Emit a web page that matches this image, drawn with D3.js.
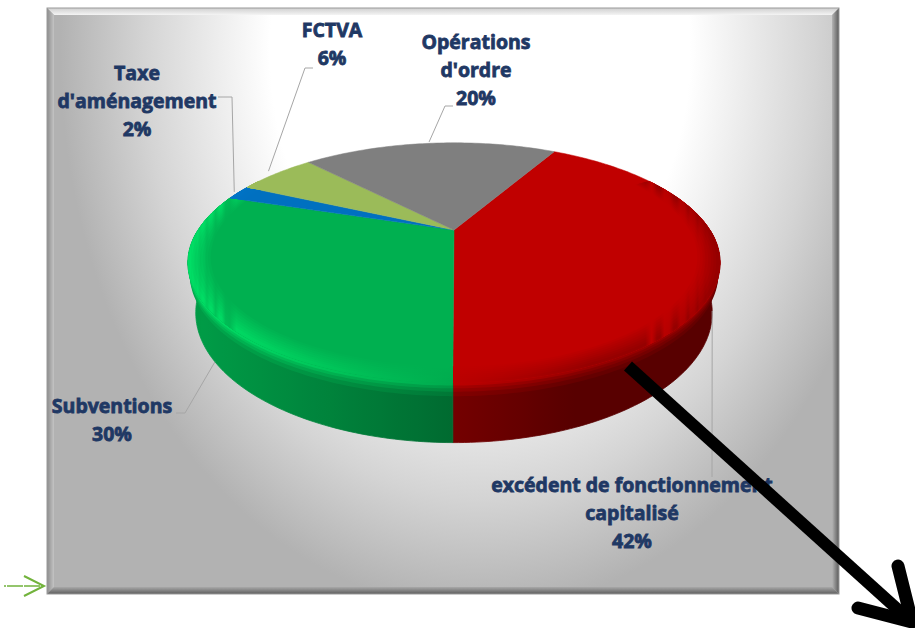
<!DOCTYPE html>
<html>
<head>
<meta charset="utf-8">
<script src="https://cdn.jsdelivr.net/npm/d3@7"></script>
<style>
body { margin: 0; background: #ffffff; }
svg { display: block; }
</style>
</head>
<body>
<div id="viz"></div>
<script>
// data
var categories = ["excédent de fonctionnement capitalisé", "Subventions", "Taxe d'aménagement", "FCTVA", "Opérations d'ordre"];
var labelLines = [["excédent de fonctionnement", "capitalisé"], ["Subventions"], ["Taxe", "d'aménagement"], ["FCTVA"], ["Opérations", "d'ordre"]];
var values = [42, 30, 2, 6, 20];
var colors = ["#c00000", "#00b050", "#0070c0", "#9bbb59", "#7f7f7f"];

var width = 915, height = 628;

// 3d pie geometry
var cx = 454, cy = 230, radius = 256, thick = 55, dist = 845;
var tilt = Math.asin(111 / 256);
var firstAngle = 29 * Math.PI / 180;
var step = Math.PI / 180;

// label layout (text centre, first baseline, leader elbow points)
var labelLayout = [
	{x: 632, y: 492, wall: true, rf: 1.0, elbow: [[712, 477]]},
	{x: 112, y: 413, wall: true, rf: 1.0, elbow: [[185, 413], [176, 413]]},
	{x: 137, y: 80, wall: false, rf: 1.02, elbow: [[232, 97], [218, 97]]},
	{x: 332, y: 37, wall: false, rf: 1.05, elbow: [[305, 68], [313, 68]]},
	{x: 476, y: 49, wall: false, rf: 1.02, elbow: [[445, 106], [453, 106]]}
];
var lineGap = 28;

var proj = function(a, yw, rf) {
	var R = radius * (rf || 1);
	var X = R * Math.sin(a), Z = R * Math.cos(a);
	var dz = dist + Z * Math.cos(tilt) - yw * Math.sin(tilt);
	var s = dist / dz;
	return [cx + X * s, cy - (yw * Math.cos(tilt) + Z * Math.sin(tilt)) * s];
};

var shade = function(c, f) {
	var h = d3.rgb(c);
	return d3.rgb(Math.min(255, h.r * f), Math.min(255, h.g * f), Math.min(255, h.b * f)).formatHex();
};

var wallF = function(a) {
	return 0.46 + 0.48 * Math.max(0, -Math.sin(a) * 0.85 - Math.cos(a) * 0.3);
};
var frontW = function(a) {
	return Math.max(0, Math.min(1, (-Math.cos(a) + 0.5) / 0.5));
};
var bevF = function(a) {
	var f = 0.78 + 0.55 * Math.max(0, -Math.sin(a) * 0.8 - Math.cos(a) * 0.35);
	return 1 + (f - 1) * frontW(a);
};

var line = d3.line();

var svg = d3.select("#viz").append("svg")
	.attr("width", width)
	.attr("height", height);

var defs = svg.append("defs");

var bg = defs.append("radialGradient")
	.attr("id", "bg")
	.attr("gradientUnits", "userSpaceOnUse")
	.attr("cx", 0).attr("cy", 0).attr("r", 1)
	.attr("gradientTransform", "translate(480,50) scale(420,560)");
[[0, "#ffffff"], [0.5, "#ffffff"], [0.8, "#d4d4d4"], [1, "#b2b2b2"]].forEach(function(s) {
	bg.append("stop").attr("offset", s[0]).attr("stop-color", s[1]);
});

var addLinear = function(id, x1, y1, x2, y2, c1, c2) {
	var g = defs.append("linearGradient").attr("id", id)
		.attr("x1", x1).attr("y1", y1).attr("x2", x2).attr("y2", y2);
	g.append("stop").attr("offset", 0).attr("stop-color", c1);
	g.append("stop").attr("offset", 1).attr("stop-color", c2);
};
addLinear("bevTop", 0, 0, 0, 1, "#cfcfcf", "#f4f4f4");
addLinear("bevLeft", 0, 0, 1, 0, "#8c8c8c", "#c4c4c4");
addLinear("bevRight", 1, 0, 0, 0, "#5a5a5a", "#b4b4b4");
addLinear("bevBottom", 0, 1, 0, 0, "#5e5e5e", "#a8a8a8");

// panel
var px0 = 47, py0 = 8, px1 = 839, py1 = 594, bw = 7;
svg.append("rect")
	.attr("x", px0).attr("y", py0)
	.attr("width", px1 - px0).attr("height", py1 - py0)
	.style("fill", "url(#bg)");

var bevels = [
	{id: "bevTop", pts: [[px0, py0], [px1, py0], [px1 - bw, py0 + bw], [px0 + bw, py0 + bw]]},
	{id: "bevLeft", pts: [[px0, py0], [px0 + bw, py0 + bw], [px0 + bw, py1 - bw], [px0, py1]]},
	{id: "bevRight", pts: [[px1, py0], [px1, py1], [px1 - bw, py1 - bw], [px1 - bw, py0 + bw]]},
	{id: "bevBottom", pts: [[px0, py1], [px0 + bw, py1 - bw], [px1 - bw, py1 - bw], [px1, py1]]}
];
svg.selectAll(".bevel")
	.data(bevels)
	.enter().append("path")
	.attr("class", "bevel")
	.attr("d", function(d) { return line(d.pts) + "Z"; })
	.style("fill", function(d) { return "url(#" + d.id + ")"; });

svg.append("rect")
	.attr("x", px0).attr("y", py0)
	.attr("width", px1 - px0).attr("height", py1 - py0)
	.style("fill", "none")
	.style("stroke", "#9a9a9a")
	.style("stroke-width", 1);

var pie = d3.pie()
	.sort(null)
	.startAngle(firstAngle)
	.endAngle(firstAngle + 2 * Math.PI)
	.value(function(d) { return d; });

var arcs = pie(values);

var clipRanges = function(d, lo, hi) {
	var out = [];
	[0, 2 * Math.PI].forEach(function(off) {
		var a0 = Math.max(d.startAngle, lo + off), a1 = Math.min(d.endAngle, hi + off);
		if (a1 > a0) out.push([a0, a1]);
	});
	return out;
};

var angleSteps = function(a0, a1) {
	var n = Math.max(1, Math.ceil((a1 - a0) / step));
	return d3.range(n + 1).map(function(i) { return a0 + (a1 - a0) * i / n; });
};

// horizontal gradient following the shading along the rim
var gradCount = 0;
var rimGradient = function(as, yw, rf, colorAt) {
	var id = "rim" + (gradCount++);
	var pts = as.map(function(a) { return {x: proj(a, yw, rf)[0], c: colorAt(a)}; });
	var x0 = d3.min(pts, function(p) { return p.x; }), x1 = d3.max(pts, function(p) { return p.x; });
	if (x1 - x0 < 0.5) x1 = x0 + 0.5;
	pts.sort(function(p, q) { return p.x - q.x; });
	var g = defs.append("linearGradient").attr("id", id)
		.attr("gradientUnits", "userSpaceOnUse")
		.attr("x1", x0).attr("y1", 0).attr("x2", x1).attr("y2", 0);
	pts.filter(function(p, k) { return k % 3 === 0 || k === pts.length - 1; }).forEach(function(p) {
		g.append("stop").attr("offset", (p.x - x0) / (x1 - x0)).attr("stop-color", p.c);
	});
	return "url(#" + id + ")";
};

var gWall = svg.append("g");
var gTop = svg.append("g");
var gBevel = svg.append("g");

// wall bands drawn bottom-up, each from rim down to its depth
var wallBands = [[-thick, 0], [-12, 0.2], [-8, 0.45], [-5, 0.7], [-2.5, 1.0]];
// top ring bands drawn outside-in, each from its radius to the rim
var topBands = d3.range(8).map(function(k) { return [0.92 + k * 0.0095, (k + 1) / 8]; });

arcs.forEach(function(d, i) {
	var col = colors[i];
	clipRanges(d, Math.PI / 2, 3 * Math.PI / 2).forEach(function(rg) {
		var as = angleSteps(rg[0], rg[1]);
		wallBands.forEach(function(b, bi) {
			var pts = as.map(function(a) { return proj(a, 0); })
				.concat(as.slice().reverse().map(function(a) { return proj(a, b[0]); }));
			var fill = rimGradient(as, 0, 1, function(a) {
				var wf = wallF(a);
				return shade(col, wf + (bevF(a) - wf) * b[1]);
			});
			gWall.append("path")
				.attr("d", line(pts) + "Z")
				.style("fill", fill)
				.style("stroke", bi === 0 ? fill : "none")
				.style("stroke-width", 0.8);
		});
	});

	var pts = [[cx, cy]].concat(angleSteps(d.startAngle, d.endAngle).map(function(a) { return proj(a, 0); }));
	gTop.append("path")
		.attr("d", line(pts) + "Z")
		.style("fill", col)
		.style("stroke", col)
		.style("stroke-width", 0.5);

	clipRanges(d, Math.PI / 3, 5 * Math.PI / 3).forEach(function(rg) {
		var as = angleSteps(rg[0], rg[1]);
		topBands.forEach(function(b) {
			var ring = as.map(function(a) { return proj(a, 0, 1); })
				.concat(as.slice().reverse().map(function(a) { return proj(a, 0, b[0]); }));
			gBevel.append("path")
				.attr("d", line(ring) + "Z")
				.style("fill", rimGradient(as, 0, 1, function(a) {
					return shade(col, 1 + (bevF(a) - 1) * b[1]);
				}));
		});
	});
});

// labels and leader lines
var fmt = d3.format(".0%");
var total = d3.sum(values);

arcs.forEach(function(d, i) {
	var lay = labelLayout[i];
	var mid = (d.startAngle + d.endAngle) / 2;
	var anchor = proj(mid, lay.wall ? -thick : 0, lay.rf);
	svg.append("path")
		.attr("d", line([anchor].concat(lay.elbow)))
		.style("fill", "none")
		.style("stroke", "#a6a6a6")
		.style("stroke-width", 1);

	var lines = labelLines[i].concat([fmt(d.data / total)]);
	var t = svg.append("text")
		.attr("text-anchor", "middle")
		.style("font-family", "'Open Sans', 'Liberation Sans', sans-serif")
		.style("font-weight", "bold")
		.style("font-size", "19.5px")
		.style("fill", "#1f3864")
		.style("stroke", "#1f3864")
		.style("stroke-width", 0.8);
	lines.forEach(function(s, j) {
		t.append("tspan")
			.attr("x", lay.x)
			.attr("y", lay.y + j * lineGap)
			.text(s);
	});
});

// black annotation arrow
var arrow = svg.append("g")
	.style("fill", "none")
	.style("stroke", "#000000");
arrow.append("path")
	.attr("d", "M628,366L905,616")
	.style("stroke-width", 12);
arrow.append("path")
	.attr("d", "M898,566L912,622L858,608")
	.style("stroke-width", 13)
	.style("stroke-linecap", "round")
	.style("stroke-linejoin", "round");

// small green arrow on the left
var garrow = svg.append("g")
	.style("fill", "none")
	.style("stroke", "#72b33c");
garrow.append("path")
	.attr("d", "M4,586L44,586")
	.style("stroke-width", 1.5)
	.style("stroke-dasharray", "2,1,14,0");
garrow.append("path")
	.attr("d", "M24,576L44,586L24,596")
	.style("stroke-width", 2);
</script>
</body>
</html>
